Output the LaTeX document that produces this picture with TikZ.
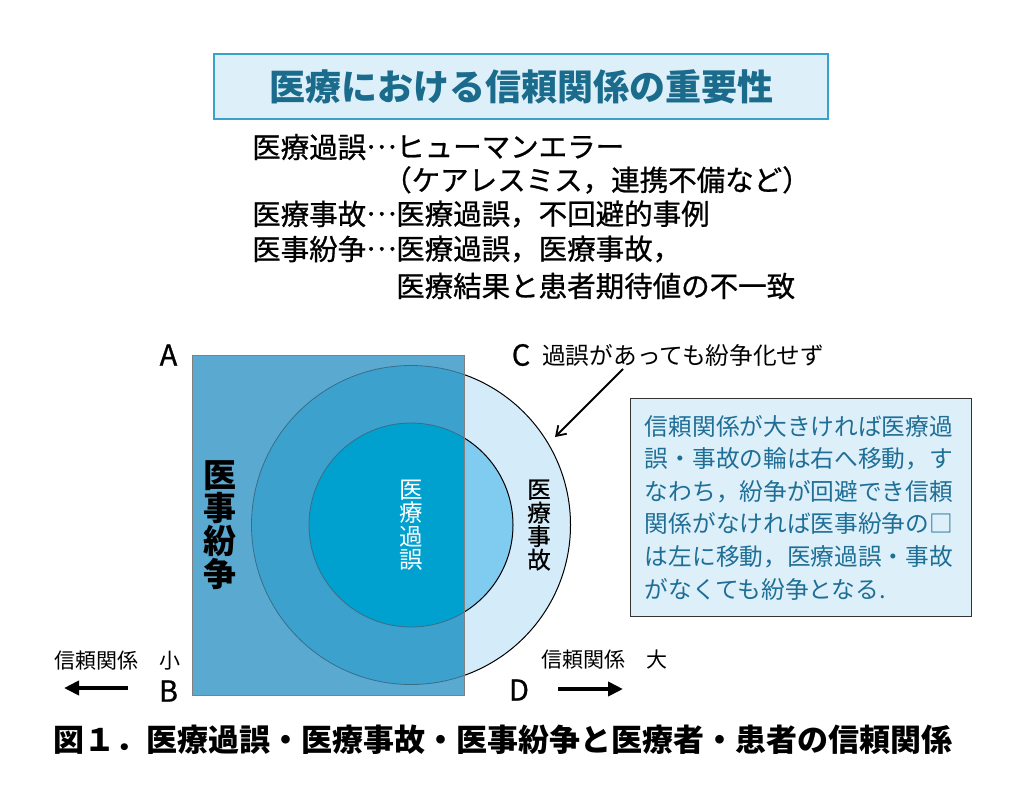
\documentclass[tikz,border=0pt]{standalone}
\usepackage{fontspec}
\setmainfont{Noto Sans CJK JP}
\newfontfamily\medfont{Noto Sans CJK JP}[FakeBold=0.8]
\usetikzlibrary{arrows.meta}
\definecolor{titlefill}{HTML}{DDF0F9}
\definecolor{titleline}{HTML}{3AA0CC}
\definecolor{titletext}{HTML}{1B6C8C}
\definecolor{notefill}{HTML}{DDF0FA}
\definecolor{notetext}{HTML}{1F6E96}
\definecolor{rectfill}{HTML}{5AA9D1}
\definecolor{outerlight}{HTML}{D4ECF9}
\definecolor{innerlight}{HTML}{80CCF0}
\definecolor{outerdark}{HTML}{3DA1CE}
\definecolor{innerdark}{HTML}{00A0CF}
\definecolor{darkedge}{HTML}{3A6E88}
\newcommand\myfs[2]{\fontsize{#1pt}{#2pt}\selectfont}
\newcommand\middots{\raisebox{0.32em}{…}}
\begin{document}
\begin{tikzpicture}[x=1pt,y=-1pt,
  txt/.style={inner sep=0pt, anchor=west},
  vtxt/.style={inner sep=0pt, align=center},
  letter/.style={inner sep=0pt, font=\myfs{29}{29}\medfont},
  bigarrow/.style={line width=4pt, -{Triangle[length=15pt,width=14pt]}},
  thinarrow/.style={line width=1.8pt, -{Straight Barb[length=9pt,width=12pt]}}]
\useasboundingbox[fill=white] (0,0) rectangle (1024,806);

% title
\node[draw=titleline, line width=1.5pt, fill=titlefill, minimum width=614pt, minimum height=65pt, inner sep=0pt,
      text=titletext, font=\myfs{36}{36}\bfseries] (title) at (521,86.5) {医療における信頼関係の重要性};

% definitions list
\begin{scope}[font=\myfs{28.5}{28.5}\medfont]
\node[txt] (d1a) at (252,147) {医療過誤\middots};
\node[txt] (d1b) at (396,147) {ヒューマンエラー};
\node[txt] (d2b) at (383,180) {（ケアレスミス，連携不備など）};
\node[txt] (d3a) at (252,214) {医療事故\middots};
\node[txt] (d3b) at (396,214) {医療過誤，不回避的事例};
\node[txt] (d4a) at (252,249) {医事紛争\middots};
\node[txt] (d4b) at (396,249) {医療過誤，医療事故，};
\node[txt] (d5b) at (396,286) {医療結果と患者期待値の不一致};
\end{scope}

% circles and rectangle
\path[fill=outerlight, draw=black, line width=1pt] (411,525) circle (159.5);
\path[fill=innerlight, draw=black, line width=1pt] (411,525) circle (102);
\path[fill=rectfill] (192,355) rectangle (464.5,695.5);
\begin{scope}
\clip (192,355) rectangle (464.5,695.5);
\path[fill=outerdark, draw=darkedge, line width=0.8pt] (411,525) circle (159.5);
\path[fill=innerdark, draw=darkedge, line width=0.8pt] (411,525) circle (102);
\end{scope}
\node[draw=gray, line width=1pt, minimum width=272.5pt, minimum height=340.5pt, inner sep=0pt] (rect) at (328.25,525.25) {};

% vertical labels
\node[vtxt, font=\myfs{33}{33}\bfseries] (funso) at (220,525) {医\\事\\紛\\争};
\node[vtxt, font=\myfs{23.5}{23.5}, text=white] (kago) at (411.5,525) {医\\療\\過\\誤};
\node[vtxt, font=\myfs{23.5}{23.5}\medfont] (jiko) at (539,525) {医\\療\\事\\故};

% corner letters
\node[letter] (A) at (168.5,355) {A};
\node[letter] (B) at (168.5,691) {B};
\node[letter] (C) at (521,355) {C};
\node[letter] (D) at (519,690) {D};

\node[txt, font=\myfs{23.7}{23.7}] (ctext) at (542,355) {過誤があっても紛争化せず};
\coordinate (arrS) at (623,369);
\coordinate (arrE) at (555,437);
\draw[thinarrow] (arrS) -- (arrE);

% note box
\node[draw=black!80, line width=1pt, fill=notefill, minimum width=341pt, minimum height=218pt, inner sep=0pt] (note) at (800.5,507) {};
\node[inner sep=0pt, align=left, text=notetext, font=\myfs{23.7}{32.6}] (notetxt) at (799,507.5)
{信頼関係が大きければ医療過\\誤・事故の輪は右へ移動，す\\なわち，紛争が回避でき信頼\\関係がなければ医事紛争の□\\は左に移動，医療過誤・事故\\がなくても紛争となる.};

% trust labels and arrows
\node[txt, font=\myfs{21}{21}] (lsmall) at (54,661) {信頼関係　小};
\node[txt, font=\myfs{21}{21}] (lbig) at (541,660) {信頼関係　大};
\coordinate (la1) at (128,688);
\coordinate (la2) at (64,688);
\draw[bigarrow] (la1) -- (la2);
\coordinate (ra1) at (558,689);
\coordinate (ra2) at (623,689);
\draw[bigarrow] (ra1) -- (ra2);

% caption
\node[txt, font=\myfs{31}{31}\bfseries] (caption) at (53,740) {図１．医療過誤・医療事故・医事紛争と医療者・患者の信頼関係};
\end{tikzpicture}
\end{document}
